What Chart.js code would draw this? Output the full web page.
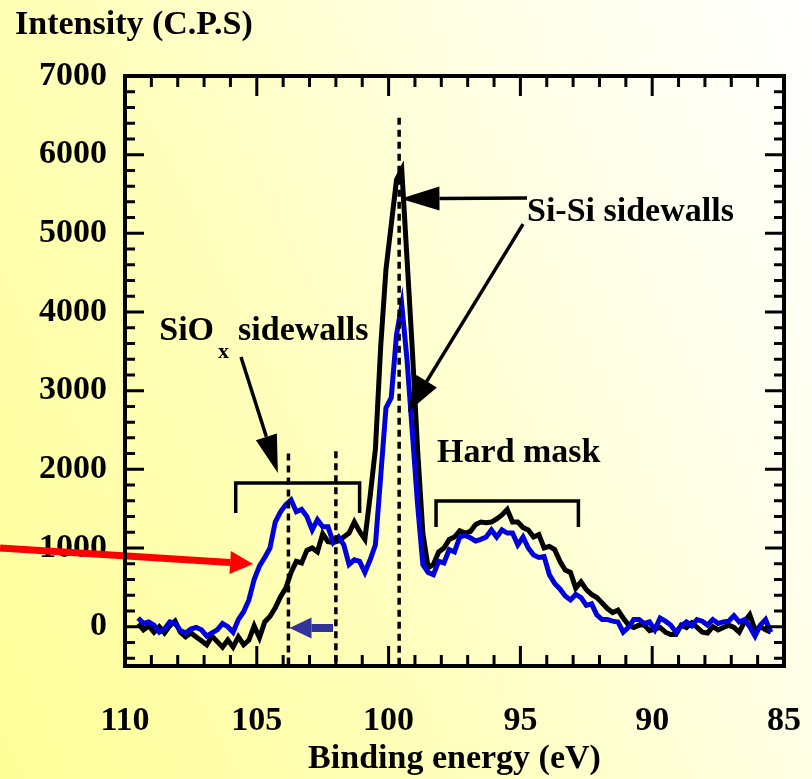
<!DOCTYPE html>
<html>
<head>
<meta charset="utf-8">
<script src="https://cdn.jsdelivr.net/npm/chart.js@4.4.0/dist/chart.umd.min.js"></script>
<style>
  html, body { margin: 0; padding: 0; }
  body {
    width: 812px; height: 779px; overflow: hidden;
    background: linear-gradient(65deg, #ffff99 0%, #ffffb8 35%, #ffffe6 70%, #ffffff 100%);
  }
  #wrap { width: 812px; height: 779px; }
</style>
</head>
<body>
<div id="wrap"><canvas id="xpsChart"></canvas></div>
<script>
// Binding energy (eV) sample points
var energy = [
  109.5,109.3,109.1,108.9,108.7,108.5,108.3,108.1,107.9,107.7,
  107.5,107.3,107.1,106.9,106.7,106.5,106.3,106.1,105.9,105.7,
  105.5,105.3,105.1,104.9,104.7,104.5,104.3,104.1,103.9,103.7,
  103.5,103.3,103.1,102.9,102.7,102.5,102.3,102.1,101.9,101.7,
  101.5,101.3,101.1,100.9,100.7,100.5,100.3,100.1,99.9,99.7,
  99.5,99.3,99.1,98.9,98.7,98.5,98.3,98.1,97.9,97.7,
  97.5,97.3,97.1,96.9,96.7,96.5,96.3,96.1,95.9,95.7,
  95.5,95.3,95.1,94.9,94.7,94.5,94.3,94.1,93.9,93.7,
  93.5,93.3,93.1,92.9,92.7,92.5,92.3,92.1,91.9,91.7,
  91.5,91.3,91.1,90.9,90.7,90.5,90.3,90.1,89.9,89.7,
  89.5,89.3,89.1,88.9,88.7,88.5,88.3,88.1,87.9,87.7,
  87.5,87.3,87.1,86.9,86.7,86.5,86.3,86.1,85.9,85.7,
  85.5
];

// blue spectrum (intensity, C.P.S)
var blueSpectrum = [
  110,40,60,20,-70,-30,60,40,-50,-80,-30,-10,-40,-120,-80,-40,40,0,-70,
  90,190,340,600,770,880,1000,1330,1460,1550,
  1610,1460,1490,1400,1230,1360,1270,1270,1070,1140,
  1040,790,850,830,690,850,1040,1910,2780,2910,
  3710,4090,3390,2470,1550,790,690,660,
  830,810,980,950,1140,1160,1130,1090,1110,1140,
  1230,1140,1230,1190,1190,1040,1140,1000,910,880,
  890,660,550,480,390,340,410,370,270,290,
  150,90,90,70,60,-70,-10,90,
  90,40,60,-40,110,70,20,-70,10,60,
  10,90,70,20,90,40,60,70,140,60,
  90,0,-120,20,90,-70
];

// black spectrum (intensity, C.P.S)
var blackSpectrum = [
  40,-40,10,-70,0,-80,10,70,-70,-130,-80,-130,-180,-230,-120,-190,-260,-170,-260,
  -130,-230,-170,10,-140,60,130,240,380,490,
  690,830,810,970,1000,950,1180,1080,1070,1090,
  1140,1190,1330,1210,1110,1660,2260,3560,4540,5110,
  5680,5810,4670,3520,2250,1190,750,790,
  950,1000,1110,1140,1220,1190,1210,1300,1330,1320,
  1330,1370,1420,1490,1330,1330,1260,1230,1140,1170,
  1000,1020,980,830,720,690,490,570,470,410,
  370,300,230,180,210,110,20,-10,
  20,20,-50,-30,-10,-70,-100,-100,20,-10,
  50,-10,-70,-80,0,-40,-10,20,-10,-70,
  60,150,-40,0,-40,-70
];

var xTicks = [110, 105, 100, 95, 90, 85];
var yTicks = [0, 1000, 2000, 3000, 4000, 5000, 6000, 7000];

var F = "'Liberation Serif', 'Times New Roman', serif";

// minor ticks every 1 eV and every 200 C.P.S
var xMinor = [];
for (var e = 86; e < 110; e++) if (e % 5 !== 0) xMinor.push(e);
var yMinor = [];
for (var v = -400; v < 7000; v += 200) if (v % 1000 !== 0) yMinor.push(v);

function arrow(ctx, x1, y1, x2, y2, color, lw, headLen, headHalf) {
  var ang = Math.atan2(y2 - y1, x2 - x1);
  var bx = x2 - headLen * Math.cos(ang), by = y2 - headLen * Math.sin(ang);
  ctx.strokeStyle = color; ctx.fillStyle = color; ctx.lineWidth = lw;
  ctx.beginPath(); ctx.moveTo(x1, y1); ctx.lineTo(bx, by); ctx.stroke();
  ctx.beginPath();
  ctx.moveTo(x2, y2);
  ctx.lineTo(bx + headHalf * Math.sin(ang), by - headHalf * Math.cos(ang));
  ctx.lineTo(bx - headHalf * Math.sin(ang), by + headHalf * Math.cos(ang));
  ctx.closePath(); ctx.fill();
}

var annotate = {
  id: 'annotate',
  afterDatasetsDraw: function (chart) {
    var ctx = chart.ctx, a = chart.chartArea;
    var X = function (v) { return chart.scales.x.getPixelForValue(v); };
    var Y = function (v) { return chart.scales.y.getPixelForValue(v); };
    ctx.save();

    // dashed guide lines
    ctx.strokeStyle = '#000'; ctx.lineWidth = 3.5; ctx.setLineDash([7, 5]);
    [[103.8, 2200], [102.0, 2230], [99.6, 6470]].forEach(function (g) {
      ctx.beginPath(); ctx.moveTo(X(g[0]), Y(g[1])); ctx.lineTo(X(g[0]), a.bottom); ctx.stroke();
    });
    ctx.setLineDash([]);

    // brackets
    ctx.lineWidth = 3.5;
    [[105.8, 101.1, 1826, 1445], [98.2, 92.8, 1598, 1267]].forEach(function (b) {
      ctx.beginPath();
      ctx.moveTo(X(b[0]), Y(b[3])); ctx.lineTo(X(b[0]), Y(b[2]));
      ctx.lineTo(X(b[1]), Y(b[2])); ctx.lineTo(X(b[1]), Y(b[3]));
      ctx.stroke();
    });

    // arrows
    arrow(ctx, X(94.75), Y(5450), X(99.55), Y(5440), '#000', 3.5, 39, 12);
    arrow(ctx, X(94.9), Y(5116), X(99.27), Y(2729), '#000', 3.5, 36, 12);
    arrow(ctx, X(105.6), Y(3428), X(104.2), Y(1953), '#000', 3.5, 38, 11);
    arrow(ctx, X(114.74), Y(1000), X(105.14), Y(797), '#ff0000', 7, 23, 11.5);
    arrow(ctx, X(102.11), Y(-17), X(103.76), Y(-17), '#333399', 8, 22, 10.5);

    // labels
    ctx.fillStyle = '#000'; ctx.textBaseline = 'middle'; ctx.textAlign = 'left';
    ctx.font = 'bold 34px ' + F;
    ctx.fillText('Si-Si sidewalls', X(94.75), Y(5270));
    ctx.fillText('Hard mask', X(98.16), Y(2207));
    var sx = X(108.7);
    ctx.fillText('SiO', sx, Y(3758));
    var subX = sx + ctx.measureText('SiO').width + 4;
    ctx.fillText('sidewalls', X(105.71), Y(3758));
    ctx.font = 'bold 22px ' + F;
    ctx.fillText('x', subX, Y(3491));

    // frame and inward ticks
    ctx.strokeStyle = '#000'; ctx.lineWidth = 3;
    function tx(val, len) {
      var px = X(val);
      ctx.beginPath();
      ctx.moveTo(px, a.bottom); ctx.lineTo(px, a.bottom - len);
      ctx.moveTo(px, a.top); ctx.lineTo(px, a.top + len);
      ctx.stroke();
    }
    function ty(val, len) {
      var py = Y(val);
      ctx.beginPath();
      ctx.moveTo(a.left, py); ctx.lineTo(a.left + len, py);
      ctx.moveTo(a.right, py); ctx.lineTo(a.right - len, py);
      ctx.stroke();
    }
    xTicks.forEach(function (t) { tx(t, 20); });
    xMinor.forEach(function (t) { tx(t, 11); });
    yTicks.forEach(function (t) { ty(t, 19); });
    yMinor.forEach(function (t) { ty(t, 10); });
    ctx.lineWidth = 4;
    ctx.strokeRect(a.left, a.top, a.right - a.left, a.bottom - a.top);

    ctx.restore();
  }
};

var tickFont = { family: F, size: 34, weight: 'bold', lineHeight: 1 };

var chartConfig = {
  type: 'line',
  data: {
    datasets: [{
      label: 'blue',
      data: energy.map(function (e, i) { return { x: e, y: blueSpectrum[i] }; }),
      borderColor: '#0000dd',
      borderWidth: 5,
      pointRadius: 0,
      tension: 0,
      fill: false
    }, {
      label: 'black',
      data: energy.map(function (e, i) { return { x: e, y: blackSpectrum[i] }; }),
      borderColor: '#000000',
      borderWidth: 5,
      pointRadius: 0,
      tension: 0,
      fill: false
    }]
  },
  options: {
    responsive: true,
    maintainAspectRatio: false,
    animation: false,
    devicePixelRatio: 1,
    layout: { padding: { left: 15, right: 28, top: 0, bottom: 0 } },
    plugins: {
      legend: { display: false },
      tooltip: { enabled: false },
      title: {
        display: true,
        text: 'Intensity (C.P.S)',
        align: 'start',
        color: '#000',
        font: { family: F, size: 34, weight: 'bold', lineHeight: 1 },
        padding: { top: 8, bottom: 34 }
      }
    },
    scales: {
      x: {
        type: 'linear',
        reverse: true,
        min: 85,
        max: 110,
        afterBuildTicks: function (s) { s.ticks = xTicks.map(function (v) { return { value: v }; }); },
        afterFit: function (s) { s.height = 113; s.paddingLeft = 0; s.paddingRight = 0; },
        grid: { display: false, drawTicks: false },
        border: { display: false },
        ticks: {
          font: tickFont, color: '#000', padding: 38, maxRotation: 0, autoSkip: false,
          callback: function (v) { return String(v); }
        },
        title: {
          display: true,
          text: 'Binding energy (eV)',
          color: '#000',
          font: tickFont,
          padding: { top: 0, bottom: 3 }
        }
      },
      y: {
        min: -500,
        max: 7000,
        afterBuildTicks: function (s) { s.ticks = yTicks.map(function (v) { return { value: v }; }); },
        afterFit: function (s) { s.width = 110; s.paddingTop = 0; s.paddingBottom = 0; },
        grid: { display: false, drawTicks: false },
        border: { display: false },
        ticks: {
          font: tickFont, color: '#000', padding: 18, autoSkip: false,
          callback: function (v) { return String(v); }
        }
      }
    }
  },
  plugins: [annotate]
};

var ctx = document.getElementById('xpsChart').getContext('2d');
var xpsChart = new Chart(ctx, chartConfig);
</script>
</body>
</html>
